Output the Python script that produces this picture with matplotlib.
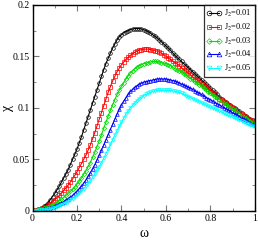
import numpy as np
import matplotlib
matplotlib.use("Agg")
import matplotlib.pyplot as plt
from matplotlib.ticker import MultipleLocator, FixedFormatter, FixedLocator

omega = np.round(np.arange(0, 1.0001, 0.01), 2)

chi_001 = [0.000, 0.0005, 0.001, 0.002, 0.003, 0.0045, 0.006, 0.008, 0.011, 0.014,
           0.017, 0.0205, 0.024, 0.028, 0.032, 0.036, 0.040, 0.045, 0.050, 0.055,
           0.060, 0.066, 0.072, 0.0785, 0.085, 0.0915, 0.098, 0.1045, 0.111, 0.1175,
           0.124, 0.1305, 0.137, 0.143, 0.148, 0.153, 0.158, 0.162, 0.166, 0.169,
           0.171, 0.173, 0.174, 0.175, 0.176, 0.1765, 0.177, 0.177, 0.177, 0.1765,
           0.176, 0.175, 0.174, 0.1725, 0.171, 0.1695, 0.168, 0.166, 0.164, 0.162,
           0.160, 0.158, 0.156, 0.1535, 0.151, 0.149, 0.147, 0.145, 0.143, 0.141,
           0.139, 0.137, 0.135, 0.133, 0.131, 0.129, 0.127, 0.125, 0.123, 0.121,
           0.119, 0.117, 0.115, 0.113, 0.111, 0.109, 0.107, 0.1055, 0.104, 0.1025,
           0.101, 0.0995, 0.098, 0.0965, 0.095, 0.0935, 0.092, 0.0905, 0.089, 0.088,
           0.087]
chi_002 = [0.000, 0.0005, 0.001, 0.0015, 0.002, 0.003, 0.004, 0.0055, 0.007, 0.009,
           0.011, 0.013, 0.015, 0.0175, 0.020, 0.0225, 0.025, 0.028, 0.031, 0.0345,
           0.038, 0.042, 0.046, 0.050, 0.054, 0.059, 0.064, 0.070, 0.076, 0.0825,
           0.089, 0.0955, 0.102, 0.1085, 0.115, 0.1205, 0.126, 0.1305, 0.135, 0.1385,
           0.142, 0.1445, 0.147, 0.149, 0.151, 0.1525, 0.154, 0.155, 0.156, 0.1565,
           0.157, 0.157, 0.157, 0.1565, 0.156, 0.1555, 0.155, 0.154, 0.153, 0.1515,
           0.150, 0.1485, 0.147, 0.1455, 0.144, 0.1425, 0.141, 0.139, 0.137, 0.1355,
           0.134, 0.132, 0.130, 0.1285, 0.127, 0.125, 0.123, 0.1215, 0.120, 0.118,
           0.116, 0.1145, 0.113, 0.111, 0.109, 0.1075, 0.106, 0.1045, 0.103, 0.1015,
           0.100, 0.0985, 0.097, 0.0955, 0.094, 0.0925, 0.091, 0.0895, 0.088, 0.087,
           0.086]
chi_003 = [0.000, 0.0005, 0.001, 0.0015, 0.002, 0.0025, 0.003, 0.004, 0.005, 0.006,
           0.007, 0.0085, 0.010, 0.0115, 0.013, 0.015, 0.017, 0.019, 0.021, 0.0235,
           0.026, 0.029, 0.032, 0.0355, 0.039, 0.043, 0.047, 0.052, 0.057, 0.0625,
           0.068, 0.074, 0.080, 0.086, 0.092, 0.0975, 0.103, 0.108, 0.113, 0.117,
           0.121, 0.1245, 0.128, 0.131, 0.134, 0.136, 0.138, 0.1395, 0.141, 0.142,
           0.143, 0.1435, 0.144, 0.1445, 0.145, 0.145, 0.145, 0.1445, 0.144, 0.1435,
           0.143, 0.142, 0.141, 0.1395, 0.138, 0.137, 0.136, 0.1345, 0.133, 0.1315,
           0.130, 0.1285, 0.127, 0.1255, 0.124, 0.1225, 0.121, 0.119, 0.117, 0.1155,
           0.114, 0.1125, 0.111, 0.1095, 0.108, 0.1065, 0.105, 0.1035, 0.102, 0.1005,
           0.099, 0.0975, 0.096, 0.0945, 0.093, 0.0915, 0.090, 0.0885, 0.087, 0.086,
           0.085]
chi_004 = [0.000, 0.000, 0.000, 0.0005, 0.001, 0.0015, 0.002, 0.0025, 0.003, 0.004,
           0.005, 0.006, 0.007, 0.008, 0.009, 0.0105, 0.012, 0.0135, 0.015, 0.017,
           0.019, 0.0215, 0.024, 0.027, 0.030, 0.0335, 0.037, 0.041, 0.045, 0.0495,
           0.054, 0.059, 0.064, 0.069, 0.074, 0.079, 0.084, 0.089, 0.094, 0.0985,
           0.103, 0.1065, 0.110, 0.113, 0.116, 0.118, 0.120, 0.1215, 0.123, 0.124,
           0.125, 0.1255, 0.126, 0.1265, 0.127, 0.1275, 0.128, 0.128, 0.128, 0.128,
           0.128, 0.1275, 0.127, 0.1265, 0.126, 0.125, 0.124, 0.123, 0.122, 0.121,
           0.120, 0.119, 0.118, 0.1165, 0.115, 0.114, 0.113, 0.1115, 0.110, 0.109,
           0.108, 0.1065, 0.105, 0.104, 0.103, 0.1015, 0.100, 0.099, 0.098, 0.0965,
           0.095, 0.094, 0.093, 0.0915, 0.090, 0.089, 0.088, 0.0865, 0.085, 0.084,
           0.083]
chi_005 = [0.000, 0.000, 0.000, 0.0005, 0.001, 0.001, 0.001, 0.0015, 0.002, 0.0025,
           0.003, 0.004, 0.005, 0.006, 0.007, 0.008, 0.009, 0.0105, 0.012, 0.0135,
           0.015, 0.017, 0.019, 0.0215, 0.024, 0.0265, 0.029, 0.0325, 0.036, 0.0395,
           0.043, 0.047, 0.051, 0.0555, 0.060, 0.0645, 0.069, 0.0735, 0.078, 0.082,
           0.086, 0.090, 0.094, 0.097, 0.100, 0.1025, 0.105, 0.107, 0.109, 0.1105,
           0.112, 0.113, 0.114, 0.115, 0.116, 0.1165, 0.117, 0.117, 0.117, 0.117,
           0.117, 0.117, 0.117, 0.1165, 0.116, 0.1155, 0.115, 0.114, 0.113, 0.112,
           0.111, 0.110, 0.109, 0.108, 0.107, 0.106, 0.105, 0.104, 0.103, 0.102,
           0.101, 0.100, 0.099, 0.098, 0.097, 0.096, 0.095, 0.094, 0.093, 0.092,
           0.091, 0.090, 0.089, 0.088, 0.087, 0.086, 0.085, 0.084, 0.083, 0.082,
           0.081]

labels = ["J$_2$=0.01", "J$_2$=0.02", "J$_2$=0.03", "J$_2$=0.04", "J$_2$=0.05"]
colors = ["black", "red", "#00dd00", "blue", "cyan"]
markers = ["o", "s", "D", "^", "v"]

plt.rcParams['font.family'] = ['Liberation Serif', 'DejaVu Serif']
plt.rcParams['mathtext.fontset'] = 'stix'

fig = plt.figure(figsize=(2.58, 2.40), dpi=100)
ax = fig.add_axes([0.126, 0.121, 0.862, 0.859])

for y, lab, c, m in zip([chi_001, chi_002, chi_003, chi_004, chi_005], labels, colors, markers):
    ax.plot(omega, y, color=c, lw=0.8, marker=m, ms=2.6 if m != "D" else 2.2,
            mfc="none", mec=c, mew=0.5, label=lab)

ax.set_xlim(0, 1)
ax.set_ylim(0, 0.2)
ax.xaxis.set_major_locator(FixedLocator([0, 0.2, 0.4, 0.6, 0.8, 1.0]))
ax.xaxis.set_major_formatter(FixedFormatter(["0", "0.2", "0.4", "0.6", "0.8", "1"]))
ax.yaxis.set_major_locator(FixedLocator([0, 0.05, 0.1, 0.15, 0.2]))
ax.yaxis.set_major_formatter(FixedFormatter(["0", "0.05", "0.1", "0.15", "0.2"]))
ax.xaxis.set_minor_locator(MultipleLocator(0.1))
ax.yaxis.set_minor_locator(MultipleLocator(0.025))
ax.tick_params(which="both", direction="in", top=True, right=True, color="#777777",
               labelsize=7, pad=2)
ax.tick_params(which="major", length=4, width=0.8)
ax.tick_params(which="minor", length=2, width=0.6)
for s in ax.spines.values():
    s.set_linewidth(1.0)

ax.set_xlabel("ω", fontsize=10, labelpad=3)
ax.set_ylabel("χ", fontsize=10)
ax.yaxis.set_label_coords(-0.085, 0.5)

leg = ax.legend(loc="upper right", fontsize=6, frameon=True, fancybox=False,
                edgecolor="black", borderaxespad=0.0, handlelength=1.7, numpoints=2,
                markerscale=1.3, handletextpad=0.3, labelspacing=0.3, borderpad=0.4)
leg.get_frame().set_linewidth(0.9)

fig.savefig("out.png", dpi=100)
